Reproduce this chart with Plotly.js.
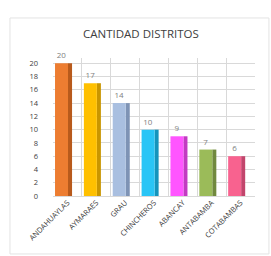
<!DOCTYPE html>
<html><head><meta charset="utf-8">
<script src="https://cdn.plot.ly/plotly-3.0.1.min.js"></script>
<style>html,body{margin:0;padding:0;background:#fff}#c{width:271px;height:256px}</style>
</head><body><div id="c"></div>
<script>
const categories = ["ANDAHUAYLAS","AYMARAES","GRAU","CHINCHEROS","ABANCAY","ANTABAMBA","COTABAMBAS"];
const values = [20, 17, 14, 10, 9, 7, 6];
const frontColors = ["#ED7D31","#FFC000","#A9BFE0","#29C5F6","#FF55FF","#9BBB59","#F8628F"];
const sideColors = ["#B85A1C","#C99600","#7E93B5","#1494BC","#C23BC2","#71893E","#C2456C"];
const yTicks = [0,2,4,6,8,10,12,14,16,18,20];

const front = {
  type: "bar", x: categories, y: values,
  marker: {color: frontColors, line: {width: 0}},
  offset: -0.43, width: 0.45,
  text: values.map(String), textposition: "outside", cliponaxis: false,
  textfont: {family: "Open Sans, sans-serif", size: 8, color: "#7f7f7f"},
  hoverinfo: "none"
};
const side = {
  type: "bar", x: categories, y: values,
  marker: {color: sideColors, line: {width: 0}},
  offset: 0.02, width: 0.14, hoverinfo: "none"
};
const layout = {
  width: 271, height: 256,
  margin: {l: 53, r: 16, t: 58, b: 60},
  paper_bgcolor: "#fff", plot_bgcolor: "#fff",
  showlegend: false, barmode: "overlay",
  title: {text: "CANTIDAD DISTRITOS", x: 0.52, xanchor: "center", y: 0.868, yanchor: "middle",
    font: {family: "Open Sans, sans-serif", size: 11.5, color: "#404040"}},
  xaxis: {type: "category", range: [-0.5, 6.5], tickson: "boundaries", showgrid: true,
    gridcolor: "#D9D9D9", gridwidth: 1, tickangle: -45, ticks: "", zeroline: false,
    tickfont: {family: "Open Sans, sans-serif", size: 7.5, color: "#404040"}, showline: false},
  yaxis: {range: [0, 20.8], tickvals: yTicks, ticktext: yTicks.map(String), gridcolor: "#D9D9D9",
    gridwidth: 1, zeroline: true, zerolinecolor: "#D9D9D9", ticks: "", ticklabelstandoff: 14,
    tickfont: {family: "Open Sans, sans-serif", size: 7.5, color: "#404040"}, showline: false},
  shapes: [{type: "rect", xref: "paper", yref: "paper", x0: -0.213, x1: 1.069, y0: -0.42, y1: 1.29,
    line: {color: "#E3E3E3", width: 1}}]
};
Plotly.newPlot("c", [side, front], layout, {staticPlot: true, displayModeBar: false});
</script></body></html>
